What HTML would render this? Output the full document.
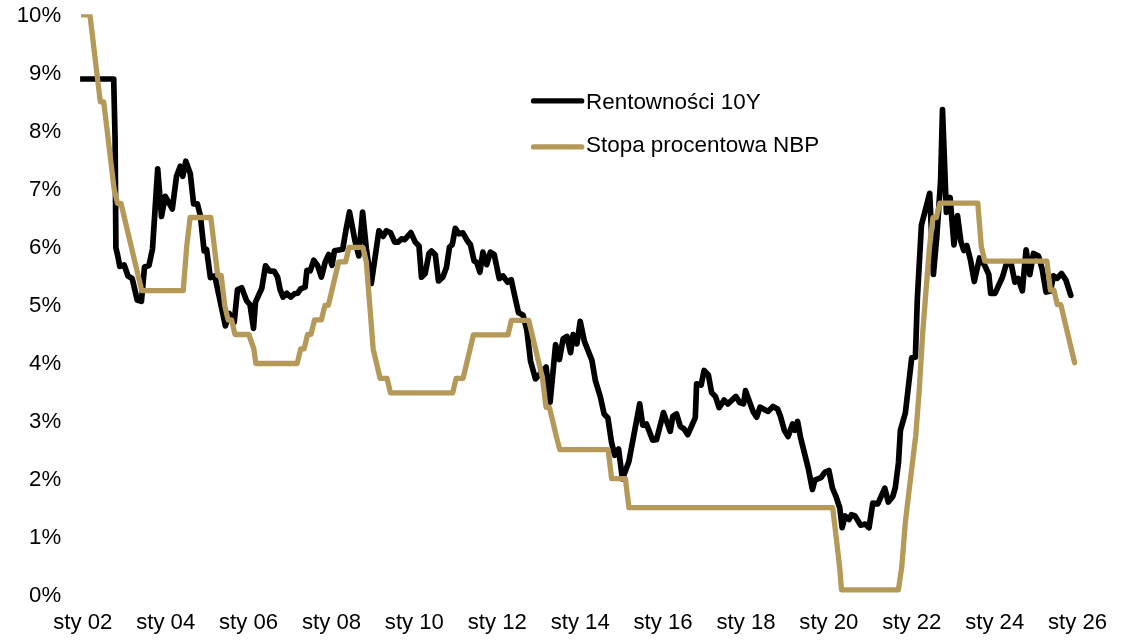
<!DOCTYPE html>
<html lang="pl"><head><meta charset="utf-8"><title>Rentowności 10Y i stopa procentowa NBP</title>
<style>
html,body{margin:0;padding:0;background:#fff;}
body{width:1133px;height:642px;overflow:hidden;}
svg{display:block;}
text{font-family:"Liberation Sans",Arial,sans-serif;font-size:22.45px;fill:#000;}
.yl text{font-size:22.2px} .xl text{font-size:22.15px}
</style></head><body>
<svg width="1133" height="642" viewBox="0 0 1133 642">
<defs><clipPath id="pa"><rect x="81.1" y="14.2" width="1052" height="600"/></clipPath><clipPath id="pb"><rect x="80.1" y="14.2" width="1053" height="600"/></clipPath></defs>
<g class="yl"><text x="61.2" y="601.6" text-anchor="end">0%</text><text x="61.2" y="543.6" text-anchor="end">1%</text><text x="61.2" y="485.6" text-anchor="end">2%</text><text x="61.2" y="427.6" text-anchor="end">3%</text><text x="61.2" y="369.6" text-anchor="end">4%</text><text x="61.2" y="311.6" text-anchor="end">5%</text><text x="61.2" y="253.6" text-anchor="end">6%</text><text x="61.2" y="195.6" text-anchor="end">7%</text><text x="61.2" y="137.6" text-anchor="end">8%</text><text x="61.2" y="79.6" text-anchor="end">9%</text><text x="61.2" y="21.6" text-anchor="end">10%</text></g>
<g class="xl"><text x="82.8" y="628.7" text-anchor="middle">sty 02</text><text x="165.7" y="628.7" text-anchor="middle">sty 04</text><text x="248.6" y="628.7" text-anchor="middle">sty 06</text><text x="331.5" y="628.7" text-anchor="middle">sty 08</text><text x="414.4" y="628.7" text-anchor="middle">sty 10</text><text x="497.3" y="628.7" text-anchor="middle">sty 12</text><text x="580.2" y="628.7" text-anchor="middle">sty 14</text><text x="663.1" y="628.7" text-anchor="middle">sty 16</text><text x="746.0" y="628.7" text-anchor="middle">sty 18</text><text x="828.9" y="628.7" text-anchor="middle">sty 20</text><text x="911.8" y="628.7" text-anchor="middle">sty 22</text><text x="994.7" y="628.7" text-anchor="middle">sty 24</text><text x="1077.6" y="628.7" text-anchor="middle">sty 26</text></g>
<g fill="none" stroke-linejoin="round" stroke-linecap="round">
<polyline clip-path="url(#pb)" points="76.0,79.0 113.7,79.0 115.1,140.0 115.9,247.8 117.6,255.0 119.8,266.4 124.2,265.0 128.0,276.0 132.2,278.5 137.2,300.0 141.4,301.4 144.5,267.0 149.0,265.5 152.5,248.8 157.7,168.8 161.5,216.4 165.3,196.4 172.3,208.9 176.5,176.3 180.3,166.3 182.8,176.3 185.8,161.2 190.3,173.8 193.6,203.9 197.4,203.9 200.4,215.9 204.1,250.9 206.6,249.6 210.4,277.7 214.8,275.9 225.4,325.9 229.2,313.4 234.2,322.2 237.5,289.6 241.7,287.8 246.7,300.9 250.0,304.6 253.5,328.4 255.5,302.1 261.8,288.3 265.5,265.8 269.3,270.8 274.3,271.3 277.6,277.1 280.1,289.6 283.1,297.1 286.8,293.3 290.6,297.1 294.4,293.8 297.6,293.3 300.6,288.8 305.1,287.1 306.9,270.3 310.2,270.8 313.7,260.3 317.7,265.8 321.4,277.1 325.2,262.0 328.7,254.5 332.0,265.3 334.5,250.7 342.7,249.2 345.8,230.9 349.5,212.0 355.0,240.9 358.8,255.9 362.6,212.0 366.3,248.4 371.3,283.5 378.9,230.8 383.1,236.4 386.4,230.8 390.6,232.8 394.7,242.1 398.2,242.1 401.4,238.9 404.7,239.6 410.9,232.6 415.2,242.1 419.0,245.9 421.5,277.2 425.2,273.5 429.0,253.4 431.5,250.9 435.3,254.7 438.5,281.0 442.8,277.2 446.5,267.2 449.5,247.1 452.3,244.6 455.3,228.3 459.1,233.8 462.8,232.8 467.4,240.9 470.4,244.6 474.1,260.9 476.6,262.2 479.9,272.2 482.9,252.1 486.7,264.7 490.4,252.1 494.2,254.7 499.2,278.5 503.0,276.0 507.5,282.2 511.2,279.7 514.2,293.5 518.5,312.7 523.0,315.0 526.8,329.7 530.5,360.9 535.5,378.9 546.1,367.1 550.1,402.2 555.6,344.6 559.4,359.6 563.1,338.9 566.9,336.4 570.6,352.6 573.1,334.6 576.9,343.9 580.2,321.3 584.4,341.4 591.9,360.2 595.4,380.7 600.4,397.0 604.1,414.0 607.9,418.0 611.6,442.8 614.8,455.3 618.6,449.0 622.4,479.0 628.9,461.5 639.7,403.9 642.7,425.2 646.4,423.9 652.7,440.2 656.5,439.7 663.5,412.6 670.2,431.4 672.8,416.4 676.5,413.9 680.3,426.4 684.0,428.9 687.8,434.7 695.3,417.7 696.6,383.8 701.1,385.1 704.1,370.5 708.4,375.0 711.6,392.6 715.4,396.4 719.1,407.6 724.1,400.1 727.9,403.9 735.9,396.4 739.7,402.6 743.5,403.9 745.5,390.6 753.0,411.4 756.7,417.2 760.0,407.1 768.0,411.4 773.0,406.4 777.5,408.9 780.5,416.4 784.3,430.2 788.1,436.5 792.6,423.9 794.8,430.2 797.6,421.4 800.6,437.7 808.3,468.5 812.4,489.5 814.8,480.2 821.0,477.7 824.8,472.4 828.9,470.5 832.4,488.0 836.0,496.5 839.8,508.0 842.1,527.7 845.2,516.0 849.0,519.5 851.4,514.7 855.0,516.0 860.7,525.2 865.2,524.0 869.0,527.7 872.8,503.1 877.8,503.9 884.8,488.1 888.3,502.1 892.8,496.4 895.3,487.6 898.5,462.5 900.4,430.4 905.4,412.8 911.7,357.7 915.4,357.2 917.3,299.6 921.4,225.3 929.7,193.3 933.4,274.4 936.8,236.6 940.6,181.0 942.5,109.6 946.4,212.4 950.1,197.4 954.0,244.9 957.5,215.6 960.9,241.5 963.8,250.5 966.8,245.5 970.5,260.0 974.3,281.5 979.5,258.0 985.0,266.0 988.8,274.5 990.7,293.4 995.0,293.4 1002.4,277.2 1006.1,264.7 1011.1,263.5 1014.9,282.1 1018.1,278.4 1022.3,290.9 1026.1,249.8 1029.8,274.7 1033.5,253.5 1038.5,256.0 1042.3,269.7 1046.0,292.1 1050.5,290.9 1053.5,275.9 1057.2,278.4 1061.6,273.5 1066.0,280.3 1070.8,295.3" stroke="#000" stroke-width="5.7"/>
<polyline clip-path="url(#pa)" points="76.0,14.8 83.0,14.8 89.9,14.8 93.4,43.8 96.8,72.8 100.3,101.8 103.7,101.8 107.2,130.8 110.6,159.8 114.1,188.8 117.5,203.3 121.0,203.3 124.5,218.2 127.9,232.7 131.4,247.2 134.8,261.7 138.3,276.2 141.7,290.7 183.2,290.7 186.7,246.5 190.1,217.5 210.8,217.5 214.3,246.5 217.7,275.5 221.2,275.5 224.7,305.5 228.1,320.0 231.6,320.0 235.0,334.5 248.8,334.5 253.9,349.0 255.8,363.5 297.2,363.5 300.7,348.8 304.1,348.8 307.6,334.3 311.0,334.3 314.5,319.8 321.4,319.8 324.9,305.3 328.3,305.3 331.8,290.8 335.2,276.3 338.7,261.8 345.6,261.8 349.0,247.3 362.9,247.3 366.3,261.8 369.8,305.8 373.2,349.3 376.7,363.8 380.1,378.3 387.0,378.3 390.5,392.8 452.7,392.8 456.1,378.3 463.1,378.3 466.5,363.8 470.0,349.3 473.4,334.8 508.0,334.8 511.4,320.3 528.7,320.3 532.2,334.8 535.6,349.3 539.1,363.8 542.5,378.3 546.0,407.3 549.4,407.3 552.9,421.8 556.3,436.3 559.8,449.7 608.2,449.7 611.6,478.7 625.4,478.7 628.9,507.7 832.7,507.7 836.2,537.6 839.6,566.6 841.5,589.9 898.4,589.9 901.8,566.6 905.3,522.7 908.7,493.7 912.2,464.7 915.7,435.7 919.1,392.2 922.6,334.2 926.0,290.7 929.5,247.2 932.9,217.7 936.4,217.7 939.8,203.2 977.8,203.2 981.3,246.7 984.8,261.2 1046.9,261.2 1050.4,290.2 1053.9,290.2 1057.3,304.7 1060.8,304.7 1064.2,319.2 1067.7,333.7 1071.1,348.2 1074.6,362.7" stroke="#b49958" stroke-width="5.3"/>
</g>
<line x1="533.5" y1="100.9" x2="581.7" y2="100.9" stroke="#000" stroke-width="5.3" stroke-linecap="round"/>
<text x="586" y="109">Rentowności 10Y</text>
<line x1="533.5" y1="146.9" x2="581.7" y2="146.9" stroke="#b49958" stroke-width="5.3" stroke-linecap="round"/>
<text x="586" y="152.3">Stopa procentowa NBP</text>
</svg>
</body></html>
